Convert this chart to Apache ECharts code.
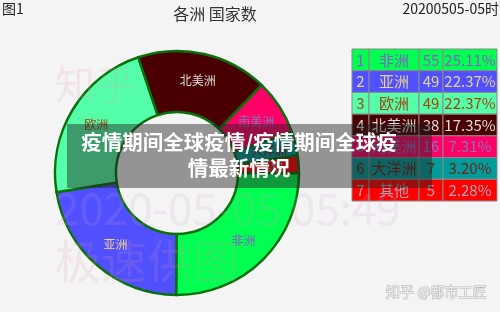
<!DOCTYPE html>
<html><head><meta charset="utf-8">
<script src="https://cdn.jsdelivr.net/npm/echarts@6/dist/echarts.min.js"></script>
<style>html,body{margin:0;padding:0;background:#f4f4f4}#c{width:500px;height:312px}</style>
</head><body><div id="c"></div>
<script>
const categories = ['非洲','亚洲','欧洲','北美洲','南美洲','大洋洲','其他'];
const counts = [55,49,49,38,16,7,5];
const sliceColors = ['#00ff50','#5050ff','#55ffaa','#4a0000','#ff0066','#009c9c','#ff0000'];
const textColors = ['#8a5cc8','#e8d48a','#a84010','#dcdcdc','#7f78bc','#7a1a10','#a8a8b8'];
const titleText = '各洲 国家数';
const figLabel = '图1';
const timeLabel = '20200505-05时';
const bandText = '疫情期间全球疫情/疫情期间全球疫\n情最新情况';
const watermarkTexts = ['知乎','2020-05-05 05:49','极速供图'];
const creditText = '知乎 @都市工匠';

const total = counts.reduce((a,b)=>a+b,0);
const pctLabels = counts.map(v => (v/total*100).toFixed(2) + '%');
const colEdges = [0,17,67,91,145];
const font = '"Noto Sans CJK SC", "Noto Sans", sans-serif';

const chart = echarts.init(document.getElementById('c'));
chart.setOption({
  backgroundColor: '#f4f4f4',
  animation: false,
  title: {text: titleText, left: 210, top: 1, textAlign: 'center',
    textStyle: {fontSize: 16, fontWeight: 'normal', color: '#333', fontFamily: font}},
  grid: {left: 352, top: 49, width: 145, height: 152},
  xAxis: {type: 'value', min: 0, max: 145, show: false},
  yAxis: {type: 'category', data: categories.map((c,i)=>i), inverse: true, show: false},
  series: [
    {
      type: 'pie', center: [177,173], radius: [61,122], startAngle: 0,
      clockwise: true, silent: true,
      itemStyle: {borderColor: '#0b700b', borderWidth: 2.5},
      label: {position: 'inside', fontSize: 12, fontFamily: font},
      labelLine: {show: false},
      data: categories.map((c,i)=>({name: c, value: counts[i],
        itemStyle: {color: sliceColors[i]}, label: {color: textColors[i]}}))
    },
    {
      type: 'custom', z: 3, silent: true,
      data: categories.map((c,i)=>[i, String(i+1), c, String(counts[i]), pctLabels[i]]),
      encode: {y: 0},
      renderItem: function(params, api){
        const row = api.value(0);
        const mid = api.coord([0,row]);
        const h = api.size([0,1])[1];
        const top = mid[1]-h/2;
        const children = [];
        const texts = [api.value(1), api.value(2), api.value(3), api.value(4)];
        for (let k=0;k<4;k++){
          const x0 = api.coord([colEdges[k],row])[0];
          const x1 = api.coord([colEdges[k+1],row])[0];
          children.push({type:'rect', shape:{x:x0, y:top, width:x1-x0, height:h},
            style:{fill: sliceColors[row], stroke:'#8a8a8a', lineWidth:1}});
          children.push({type:'text', style:{x:(x0+x1)/2, y:mid[1], text:texts[k],
            align:'center', verticalAlign:'middle', fill:textColors[row],
            font: '15px ' + font}});
        }
        return {type:'group', children};
      }
    }
  ],
  graphic: [
    {type:'text', left: 2, top: 2, style:{text: figLabel, font:'14px '+font, fill:'#222'}},
    {type:'text', right: 1, top: 2, style:{text: timeLabel, font:'14px '+font, fill:'#222'}},
    {type:'text', x: 55, y: 64, z: 50, style:{text: watermarkTexts[0], font:'40px '+font, fill:'rgba(225,150,170,0.17)'}},
    {type:'text', x: 55, y: 186, z: 50, style:{text: watermarkTexts[1], font:'44px '+font, fill:'rgba(200,160,210,0.17)'}},
    {type:'text', x: 55, y: 238, z: 50, style:{text: watermarkTexts[2], font:'46px '+font, fill:'rgba(225,150,170,0.16)'}},
    {type:'rect', z: 60, shape:{x:67, y:124, width:365, height:64}, style:{fill:'rgba(30,30,30,0.45)'}},
    {type:'text', z: 61, x: 239, y: 155, style:{text: bandText, align:'center', verticalAlign:'middle',
      font:'bold 20.5px '+font, fill:'#fff', lineHeight: 26}},
    {type:'text', z: 61, right: 13, top: 284, style:{text: creditText, font:'14px '+font,
      fill:'#ececec', stroke:'#b8b8b8', lineWidth:1}}
  ]
});
</script></body></html>
